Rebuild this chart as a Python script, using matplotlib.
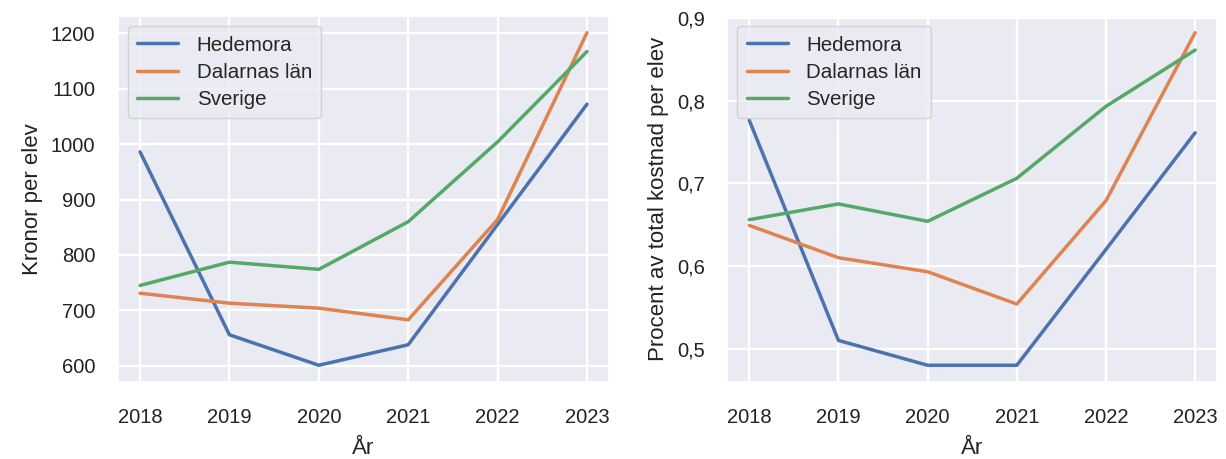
import matplotlib
matplotlib.use("Agg")
import matplotlib.pyplot as plt
from matplotlib.ticker import FuncFormatter
import seaborn as sns

# data
years = [2018, 2019, 2020, 2021, 2022, 2023]
series_names = ['Hedemora', 'Dalarnas län', 'Sverige']

kronor_hedemora = [986, 656, 601, 638, 855, 1072]
kronor_dalarna = [731, 713, 704, 683, 864, 1201]
kronor_sverige = [745, 787, 774, 860, 1004, 1167]

procent_hedemora = [0.776, 0.510, 0.480, 0.480, 0.620, 0.761]
procent_dalarna = [0.649, 0.610, 0.593, 0.554, 0.679, 0.882]
procent_sverige = [0.656, 0.675, 0.654, 0.706, 0.793, 0.861]

left_ticks = [600, 700, 800, 900, 1000, 1100, 1200]
right_ticks = [0.5, 0.6, 0.7, 0.8, 0.9]

sns.set_theme(style='darkgrid')
plt.rcParams['font.family'] = ['Liberation Sans', 'DejaVu Sans']

colors = sns.color_palette('deep')[:3]

fig = plt.figure(figsize=(12.26, 4.59), dpi=100)
ax1 = fig.add_axes([0.096, 0.168, 0.401, 0.797])
ax2 = fig.add_axes([0.593, 0.168, 0.400, 0.797])


def rita(ax, serier, ylabel, ticks, fmt):
    for namn, varden, farg in zip(series_names, serier, colors):
        ax.plot(years, varden, color=farg, linewidth=2.5, label=namn)
    ax.set_xticks(years)
    ax.set_yticks(ticks)
    ax.yaxis.set_major_formatter(FuncFormatter(fmt))
    ax.tick_params(axis='x', labelsize=14.5, colors='#222222', pad=13)
    ax.tick_params(axis='y', labelsize=14.5, colors='#222222', pad=10)
    ax.set_xlabel('År', fontsize=16, color='#222222', labelpad=8)
    ax.set_ylabel(ylabel, fontsize=16, color='#222222', labelpad=6)
    ax.grid(True, color='white', linewidth=1.7)
    ax.legend(loc='upper left', fontsize=14.8, handlelength=2.0,
              borderpad=0.45, labelspacing=0.4, handletextpad=0.9)


rita(ax1, [kronor_hedemora, kronor_dalarna, kronor_sverige],
     'Kronor per elev', left_ticks, lambda v, p: f'{v:.0f}')
rita(ax2, [procent_hedemora, procent_dalarna, procent_sverige],
     'Procent av total kostnad per elev', right_ticks,
     lambda v, p: f'{v:.1f}'.replace('.', ','))

fig.savefig('out.png', dpi=100)
